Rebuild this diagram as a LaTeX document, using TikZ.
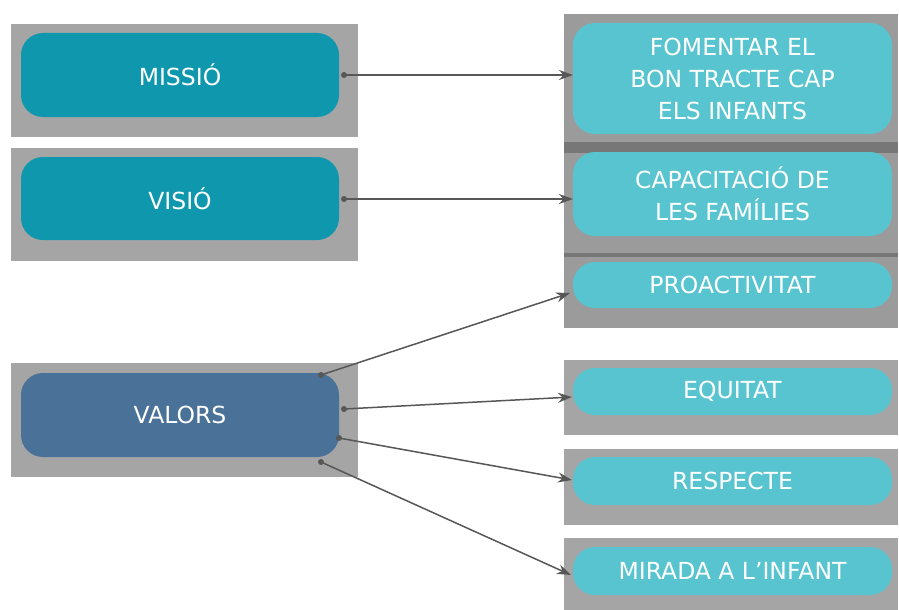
\documentclass[tikz,border=0pt]{standalone}
\usepackage{fontspec}
\setmainfont{DejaVu Sans}
\usetikzlibrary{arrows.meta}
\definecolor{greybg}{HTML}{A5A5A5}
\definecolor{greystack}{HTML}{9B9B9B}
\definecolor{greyband}{HTML}{777777}
\definecolor{tealdark}{HTML}{0F97AD}
\definecolor{bluegrey}{HTML}{4A7197}
\definecolor{teallight}{HTML}{57C4CF}
\definecolor{arrowgrey}{HTML}{575757}
\tikzset{
  panel/.style={fill=greybg, draw=none, inner sep=0pt},
  box/.style={draw=none, inner sep=0pt, text=white, align=center,
     font=\fontsize{23.5}{32}\selectfont, rounded corners=22pt},
  mainbox/.style={box, fill=tealdark},
  valbox/.style={box, fill=bluegrey},
  rbox/.style={box, fill=teallight},
  startdot/.style={circle, fill=arrowgrey, inner sep=0pt, minimum size=6pt},
  conn/.style={draw=arrowgrey, line width=1.5pt, -{Stealth[length=14pt,width=10pt]}}
}
\begin{document}
\begin{tikzpicture}[x=1pt,y=-1pt]
\useasboundingbox[fill=white] (0,0) rectangle (899,610);
% left panels
\node[panel, minimum width=347pt, minimum height=113pt] (pm) at (184.5,80.5) {};
\node[panel, minimum width=347pt, minimum height=113pt] (pv) at (184.5,204.5) {};
\node[panel, minimum width=347pt, minimum height=114pt] (pval) at (184.5,420) {};
% right stack
\node[panel, fill=greystack, minimum width=334pt, minimum height=314pt] (pstack) at (731,171) {};
\node[panel, fill=greyband, minimum width=334pt, minimum height=11pt] (band1) at (731,147.5) {};
\node[panel, fill=greyband, minimum width=334pt, minimum height=4pt] (band2) at (731,255) {};
\node[panel, minimum width=334pt, minimum height=75pt] (peq) at (731,397.5) {};
\node[panel, minimum width=334pt, minimum height=76pt] (pres) at (731,487) {};
\node[panel, minimum width=334pt, minimum height=72pt] (pmir) at (731,574) {};
% left boxes
\node[mainbox, minimum width=318pt, minimum height=84pt] (missio) at (180,75) {MISSIÓ};
\node[mainbox, minimum width=318pt, minimum height=83pt] (visio) at (180,198.5) {VISIÓ};
\node[valbox, minimum width=318pt, minimum height=84pt] (valors) at (180,415) {VALORS};
% right boxes
\node[rbox, minimum width=319pt, minimum height=111pt] (fom) at (732.5,78.5) {FOMENTAR EL\\BON TRACTE CAP\\ELS INFANTS};
\node[rbox, minimum width=319pt, minimum height=84pt] (cap) at (732.5,194) {CAPACITACIÓ DE\\LES FAMÍLIES};
\node[rbox, minimum width=319pt, minimum height=46pt] (pro) at (732.5,285) {PROACTIVITAT};
\node[rbox, minimum width=319pt, minimum height=47pt] (equ) at (732.5,391.5) {EQUITAT};
\node[rbox, minimum width=319pt, minimum height=48pt] (res) at (732.5,481) {RESPECTE};
\node[rbox, minimum width=319pt, minimum height=48pt] (mir) at (732.5,571) {MIRADA A L’INFANT};
% start dots
\node[startdot] (d1) at (344,75) {};
\node[startdot] (d2) at (344,199) {};
\node[startdot] (d3) at (321,375) {};
\node[startdot] (d4) at (344,409) {};
\node[startdot] (d5) at (339,438) {};
\node[startdot] (d6) at (321,462) {};
% arrow ends
\coordinate (e1) at (573,75);
\coordinate (e2) at (573,199);
\coordinate (e3) at (570,293);
\coordinate (e4) at (572,397);
\coordinate (e5) at (572,480);
\coordinate (e6) at (571,575);
\draw[conn] (d1.center) -- (e1);
\draw[conn] (d2.center) -- (e2);
\draw[conn] (d3.center) -- (e3);
\draw[conn] (d4.center) -- (e4);
\draw[conn] (d5.center) -- (e5);
\draw[conn] (d6.center) -- (e6);
\end{tikzpicture}
\end{document}
